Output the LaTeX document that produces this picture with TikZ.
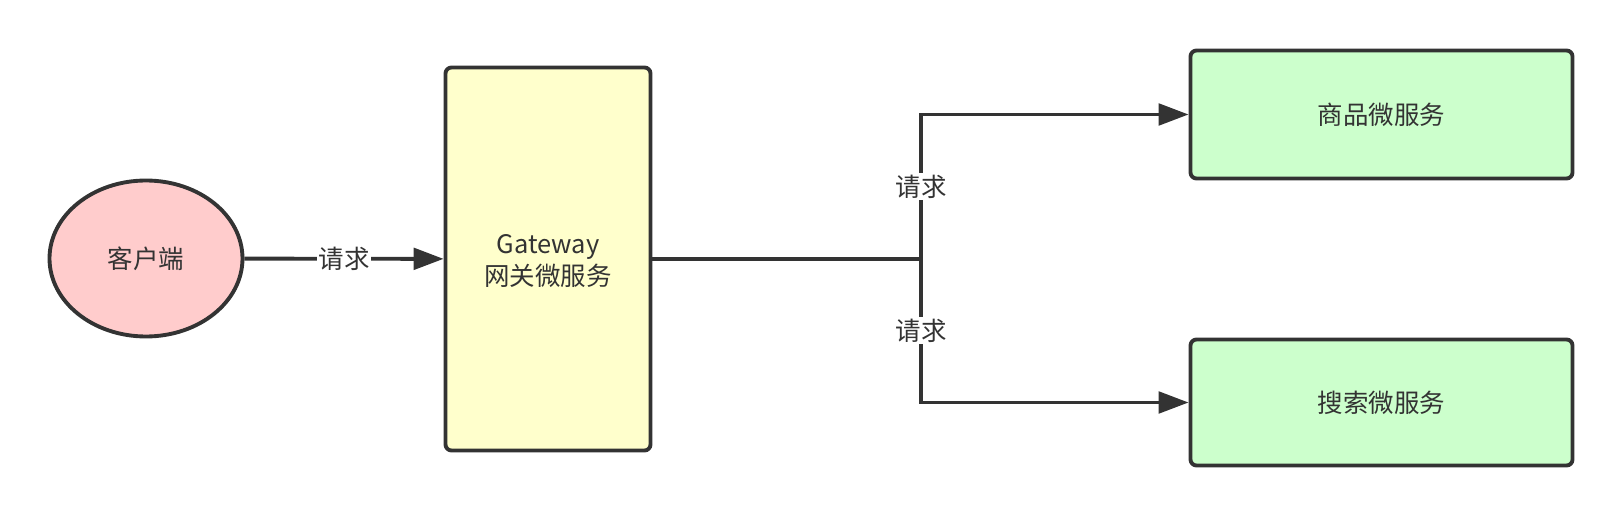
\documentclass[tikz,border=0pt]{standalone}
\usepackage{fontspec}
\setmainfont{Noto Sans CJK SC}
\usetikzlibrary{arrows.meta}
\usetikzlibrary{shapes.geometric}
\definecolor{ink}{HTML}{333333}
\definecolor{clientpink}{HTML}{FFCCCC}
\definecolor{gatewayyellow}{HTML}{FFFFCC}
\definecolor{servicegreen}{HTML}{CCFFCC}

\begin{document}
\begin{tikzpicture}[
    every node/.style={text=ink, font=\fontsize{14.5}{18.5}\selectfont},
    client/.style={ellipse, draw=ink, line width=2.2pt, fill=clientpink, minimum width=3.86cm, minimum height=3.12cm},
    box/.style={draw=ink, line width=2.2pt, rounded corners=0.12cm, align=center},
    link/.style={draw=ink, line width=2.2pt},
    request/.style={link, -{Triangle[length=0.6cm, width=0.43cm]}},
    reqlabel/.style={fill=white, inner sep=1pt}
  ]
    \useasboundingbox (0,0) rectangle (32.48,10.36);

    \node[client] (client) at (2.92,5.19) {客户端};
    \node[box, fill=gatewayyellow, minimum width=4.1cm, minimum height=7.66cm] (gateway) at (10.96,5.18) {\raisebox{-0.21cm}[0pt][0pt]{\begin{tabular}{@{}c@{}}Gateway\\网关微服务\end{tabular}}};
    \node[box, fill=servicegreen, minimum width=7.64cm, minimum height=2.56cm] (goods) at (27.63,8.07) {商品微服务};
    \node[box, fill=servicegreen, minimum width=7.64cm, minimum height=2.52cm] (search) at (27.63,2.31) {搜索微服务};
    \coordinate (fork) at (18.42,5.18);

    \draw[request] (client) -- node[reqlabel] {请求} (gateway);
    \draw[link] (gateway.east) -- (fork);
    \draw[request] (fork) |- node[reqlabel, pos=0.25] {请求} (goods.west);
    \draw[request] (fork) |- node[reqlabel, pos=0.25] {请求} (search.west);
  \end{tikzpicture}
\end{document}
